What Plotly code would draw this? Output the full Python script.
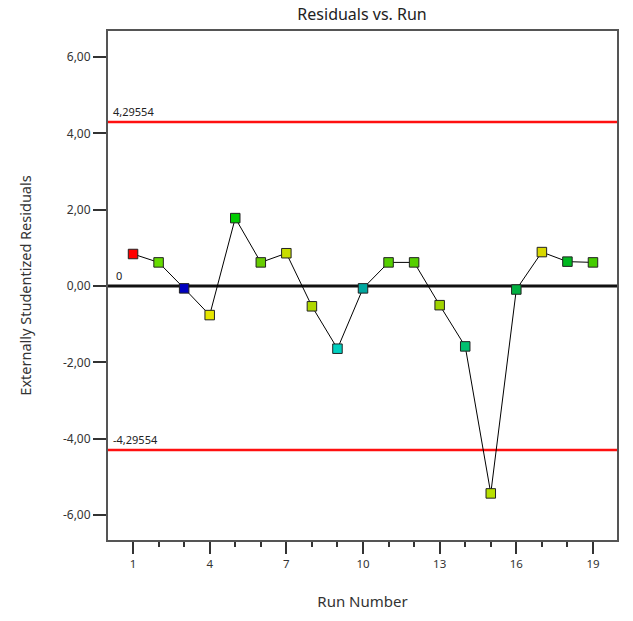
import plotly.graph_objects as go

runs = list(range(1, 20))
residuals = [0.84, 0.62, -0.06, -0.76, 1.78, 0.62, 0.86, -0.53, -1.64, -0.06,
             0.62, 0.62, -0.50, -1.58, -5.43, -0.09, 0.89, 0.64, 0.62]
point_colors = ["#ff0000", "#66dd00", "#0000c0", "#e6e600", "#00cc00", "#66cc00",
                "#c8dd00", "#b0d800", "#00d0c0", "#00a8a0", "#55d000", "#55d000",
                "#a0d400", "#00c070", "#b8e000", "#00b040", "#d8d800", "#00b820", "#44cc00"]
upper_limit = 4.29554
lower_limit = -4.29554
upper_label = "4,29554"
lower_label = "-4,29554"
y_tickvals = [-6, -4, -2, 0, 2, 4, 6]
y_ticktext = ["-6,00", "-4,00", "-2,00", "0,00", "2,00", "4,00", "6,00"]
x_tickvals = [1, 4, 7, 10, 13, 16, 19]

FONT = "Noto Sans"

fig = go.Figure()
fig.add_trace(go.Scatter(
    x=runs, y=residuals, mode="lines+markers",
    line=dict(color="black", width=1),
    marker=dict(symbol="square", size=9.5, color=point_colors,
                line=dict(color="#222222", width=1)),
    showlegend=False, hoverinfo="x+y"))

# horizontal reference lines
fig.add_shape(type="line", xref="paper", x0=0, x1=1, yref="y", y0=upper_limit, y1=upper_limit,
              line=dict(color="#ff1010", width=2.5), layer="below")
fig.add_shape(type="line", xref="paper", x0=0, x1=1, yref="y", y0=lower_limit, y1=lower_limit,
              line=dict(color="#ff1010", width=2.5), layer="below")
fig.add_shape(type="line", xref="paper", x0=0, x1=1, yref="y", y0=0, y1=0,
              line=dict(color="#111111", width=3), layer="below")

for yv, txt in [(upper_limit, upper_label), (lower_limit, lower_label), (0, "0")]:
    fig.add_annotation(xref="paper", x=0, yref="y", y=yv, text=txt, showarrow=False,
                       xanchor="left", yanchor="bottom", xshift=3 if txt != "0" else 6,
                       yshift=1, font=dict(family=FONT, size=11, color="#222222"))

fig.update_layout(
    width=633, height=621,
    margin=dict(l=108, r=16, t=31, b=81),
    paper_bgcolor="white", plot_bgcolor="white",
    title=dict(text="Residuals vs. Run", x=0.572, xanchor="center", y=0.977, yanchor="middle",
               font=dict(family=FONT, size=16, color="#222222")),
    font=dict(family=FONT, color="#333333"),
)
fig.update_xaxes(
    range=[0.02, 19.94], tickvals=x_tickvals, ticks="outside", ticklen=12, tickwidth=2,
    tickcolor="#333333", showgrid=False, zeroline=False,
    showline=True, linecolor="#555555", linewidth=2, mirror=True,
    tickfont=dict(family=FONT, size=11.5, color="#333333"),
    minor=dict(dtick=1, tick0=1, ticks="outside", ticklen=5, tickwidth=1.5, tickcolor="#333333"),
    title=dict(text="Run Number", font=dict(family=FONT, size=15, color="#333333"), standoff=27),
)
fig.update_yaxes(
    range=[-6.65, 6.68], tickvals=y_tickvals, ticktext=y_ticktext, ticks="outside",
    ticklen=13, tickwidth=1.5, tickcolor="#333333", showgrid=False, zeroline=False,
    showline=True, linecolor="#555555", linewidth=2, mirror=True,
    tickfont=dict(family=FONT, size=12, color="#333333"),
    title=dict(text="Externally Studentized Residuals",
               font=dict(family=FONT, size=14.5, color="#333333"), standoff=28),
)

fig.write_html("out.html")
